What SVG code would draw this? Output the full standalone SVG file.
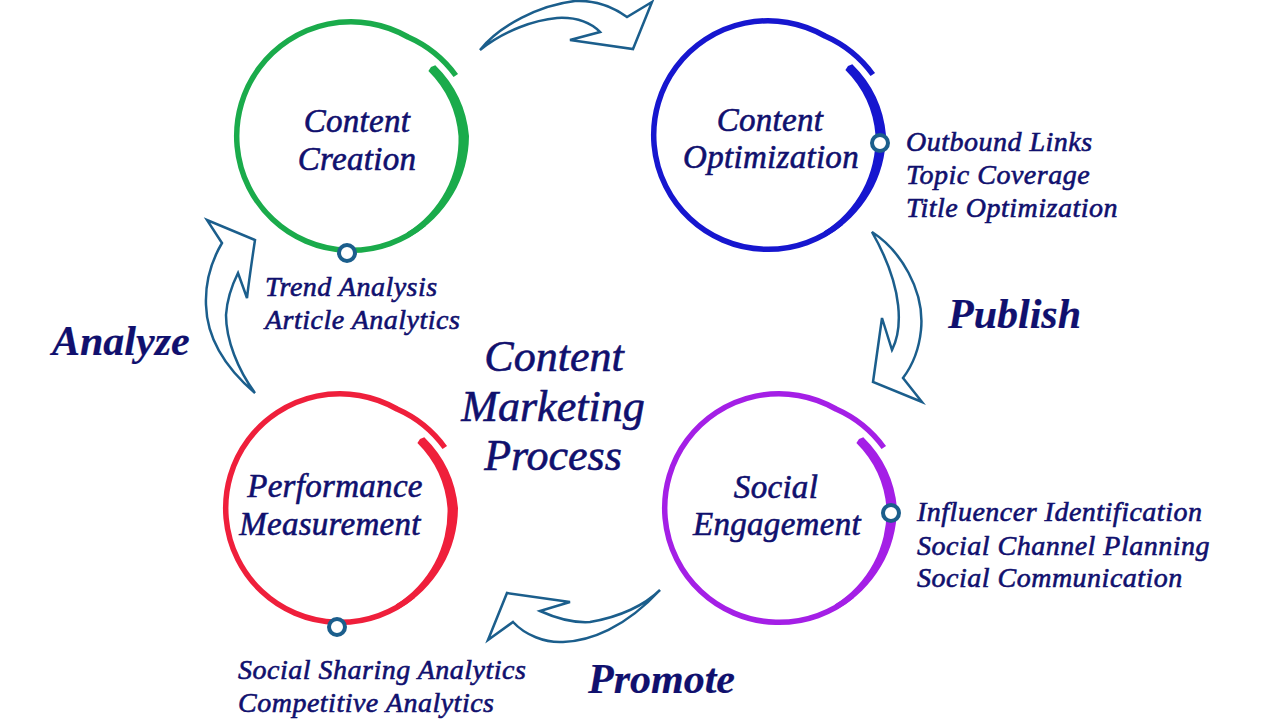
<svg xmlns="http://www.w3.org/2000/svg" xmlns:xlink="http://www.w3.org/1999/xlink" width="1280" height="720" viewBox="0 0 1280 720">
<style>
.t{font-family:"Liberation Serif","Times New Roman",serif;font-style:italic;fill:#10106e;stroke:#10106e;stroke-width:0.6px}
.name{font-size:33px;text-anchor:middle;letter-spacing:0.3px}
.item{font-size:28px;letter-spacing:0.5px}
.title{font-size:44px;text-anchor:middle}
.verb{font-size:42px;font-weight:bold;stroke-width:0.2px}
.arrow{fill:#fff;stroke:#1b5e8c;stroke-width:2.5;stroke-linejoin:miter}
.dot{fill:#fff;stroke:#1b5e8c;stroke-width:4}
.thin{fill:none;stroke:currentColor;stroke-width:5.5}
.thick{fill:currentColor;stroke:none}
</style>
<defs>
<g id="ring">
<path class="thin" d="M104.8,-60.5 A118,118 0 0 0 57,-99 A114.3,114.3 0 1 0 73.5,87.6"/>
<path class="thick" d="M84.3,-70.7 A114,114 0 0 1 118,0 A117,117 0 0 1 58.4,101.2 L55.75,96.6 A110,110 0 0 0 107.5,0 A104,104 0 0 0 77.4,-64.9 L80,-69 Z"/>
</g>
</defs>
<rect width="1280" height="720" fill="#fff"/>
<g id="connectors">
<path class="arrow" d="M480,50 C500,25 540,5 575,1 C595,0 612,6 627,17 L652,2 L633,49 L570,40 L600,32 C590,22 575,17 557,18 C535,20 505,30 480,50 Z"/>
<path class="arrow" d="M872,232 C900,250 925,290 921,330 C919,350 912,366 903,378 L922,402 L873,382 L882,318 L892,350 C902,330 905,290 872,232 Z"/>
<path class="arrow" d="M660,590 C645,605 620,617 590,622 C575,623 560,620 540,611 L570,602 L507,593 L488,640 L513,622 C525,635 545,643 563,642 C590,641 625,628 660,590 Z"/>
<path class="arrow" d="M255,393 C228,370 207,340 206,305 C205,280 212,260 222,243 L207,220 L255,240 C252,260 249,280 247,298 L238,273 C232,285 227,300 226,315 C226,340 238,370 255,393 Z"/>
</g>
<g id="content-creation" color="#1aab4b">
<use xlink:href="#ring" href="#ring" transform="translate(351,136)"/>
<circle class="dot" cx="347" cy="253" r="8"/>
<text class="t name" x="357" y="132">Content</text>
<text class="t name" x="357" y="170">Creation</text>
<text class="t item" x="265" y="296">Trend Analysis</text>
<text class="t item" x="265" y="329">Article Analytics</text>
</g>
<g id="content-optimization" color="#1616cf">
<use xlink:href="#ring" href="#ring" transform="translate(768,135)"/>
<circle class="dot" cx="880" cy="143" r="8"/>
<text class="t name" x="770" y="131">Content</text>
<text class="t name" x="771" y="168">Optimization</text>
<text class="t item" x="906" y="151">Outbound Links</text>
<text class="t item" x="906" y="184">Topic Coverage</text>
<text class="t item" x="906" y="217">Title Optimization</text>
</g>
<g id="social-engagement" color="#a41fe6">
<use xlink:href="#ring" href="#ring" transform="translate(779,508)"/>
<circle class="dot" cx="891" cy="513" r="8"/>
<text class="t name" x="776" y="498">Social</text>
<text class="t name" x="777" y="535">Engagement</text>
<text class="t item" x="917" y="521">Influencer Identification</text>
<text class="t item" x="917" y="555">Social Channel Planning</text>
<text class="t item" x="917" y="587">Social Communication</text>
</g>
<g id="performance-measurement" color="#ef1f3b">
<use xlink:href="#ring" href="#ring" transform="translate(340,508)"/>
<circle class="dot" cx="337" cy="627" r="8"/>
<text class="t name" x="335" y="497">Performance</text>
<text class="t name" x="330" y="535">Measurement</text>
<text class="t item" x="238" y="679">Social Sharing Analytics</text>
<text class="t item" x="238" y="712">Competitive Analytics</text>
</g>
<g id="center-title">
<text class="t title" x="554" y="371">Content</text>
<text class="t title" x="553" y="421">Marketing</text>
<text class="t title" x="553" y="470">Process</text>
</g>
<g id="labels">
<text class="t verb" x="52" y="355">Analyze</text>
<text class="t verb" x="948" y="328">Publish</text>
<text class="t verb" x="588" y="693">Promote</text>
</g>
</svg>
